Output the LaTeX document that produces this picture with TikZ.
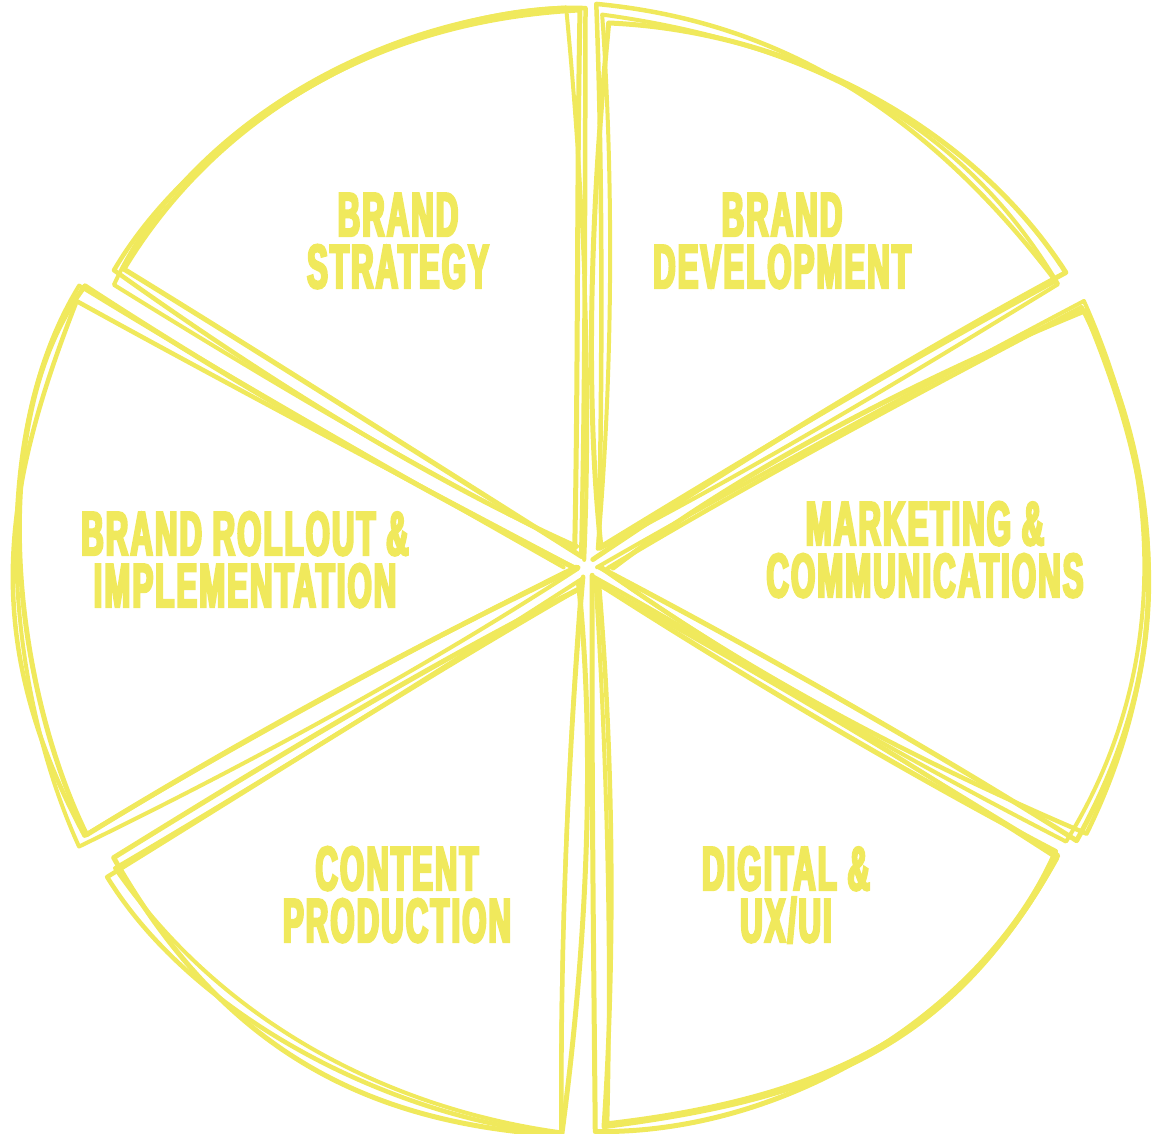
\documentclass[tikz,border=0pt]{standalone}
\usepackage{fontspec}
\usetikzlibrary{calc}
\newfontfamily\lab[UprightFont={* Bold},FakeStretch=0.5,FakeBold=4,LetterSpace=3.5]{Liberation Sans}
\definecolor{ylw}{RGB}{240,233,92}
\tikzset{
  ln/.style={draw=ylw,line join=round,line cap=round},
  lbl/.style={text=ylw,font=\lab\fontsize{62}{62}\selectfont,inner sep=0pt,anchor=base}
}
\newcommand\sk[3]{%
  \pgfmathsetmacro\skaa{#1+28.5+1.3*rand}%
  \pgfmathsetmacro\skab{#1-28.5+1.3*rand}%
  \pgfmathsetmacro\skra{#2+10*rand}%
  \pgfmathsetmacro\skrb{#2+10*rand}%
  \pgfmathsetmacro\skrc{1.058*#2+18*rand}%
  \pgfmathsetmacro\skrd{1.058*#2+18*rand}%
  \pgfmathsetmacro\skd{18+10*rand}%
  \pgfmathsetmacro\skdd{18+10*rand}%
  \pgfmathsetmacro\skba{6*rand}%
  \pgfmathsetmacro\skbb{6*rand}%
  \pgfmathsetmacro\skca{4*rand}%
  \pgfmathsetmacro\skcb{4*rand}%
  \draw[ln,line width=#3]
    ($(C)+(#1+5*rand:\skd)$)
    .. controls ($(C)+(\skaa+\skba:0.35*\skra)$) and ($(C)+(\skaa+0.4*\skba:0.7*\skra)$) ..
    ($(C)+(\skaa:\skra)$)
    .. controls ($(C)+(\skaa-19+\skca:\skrc)$) and ($(C)+(\skab+19+\skcb:\skrd)$) ..
    ($(C)+(\skab:\skrb)$)
    .. controls ($(C)+(\skab+0.4*\skbb:0.7*\skrb)$) and ($(C)+(\skab+\skbb:0.35*\skrb)$) ..
    ($(C)+(#1+5*rand:\skdd)$);
}
\begin{document}
\begin{tikzpicture}[x=1pt,y=1pt]
\useasboundingbox (0,0) rectangle (1154,1133);
\coordinate (C) at (588,565);
\pgfmathsetseed{23}
\foreach \b/\r in {120/562,60/555,0/560,-60/555,-120/562,180/572}{
  \sk{\b}{\r}{5}
  \sk{\b}{\r}{4.5}
  \sk{\b}{\r}{4}
}
\node[lbl] (s1) at (398,1133-236) {BRAND};
\node[lbl] (s2) at (398,1133-288) {STRATEGY};
\node[lbl] (d1) at (782,1133-236) {BRAND};
\node[lbl] (d2) at (782,1133-288) {DEVELOPMENT};
\node[lbl] (m1) at (925,1133-545) {MARKETING \&};
\node[lbl] (m2) at (925,1133-597) {COMMUNICATIONS};
\node[lbl] (r1) at (245,1133-555) {BRAND ROLLOUT \&};
\node[lbl] (r2) at (245,1133-607) {IMPLEMENTATION};
\node[lbl] (c1) at (397,1133-890) {CONTENT};
\node[lbl] (c2) at (397,1133-942) {PRODUCTION};
\node[lbl] (u1) at (786,1133-890) {DIGITAL \&};
\node[lbl] (u2) at (786,1133-942) {UX/UI};
\end{tikzpicture}
\end{document}
